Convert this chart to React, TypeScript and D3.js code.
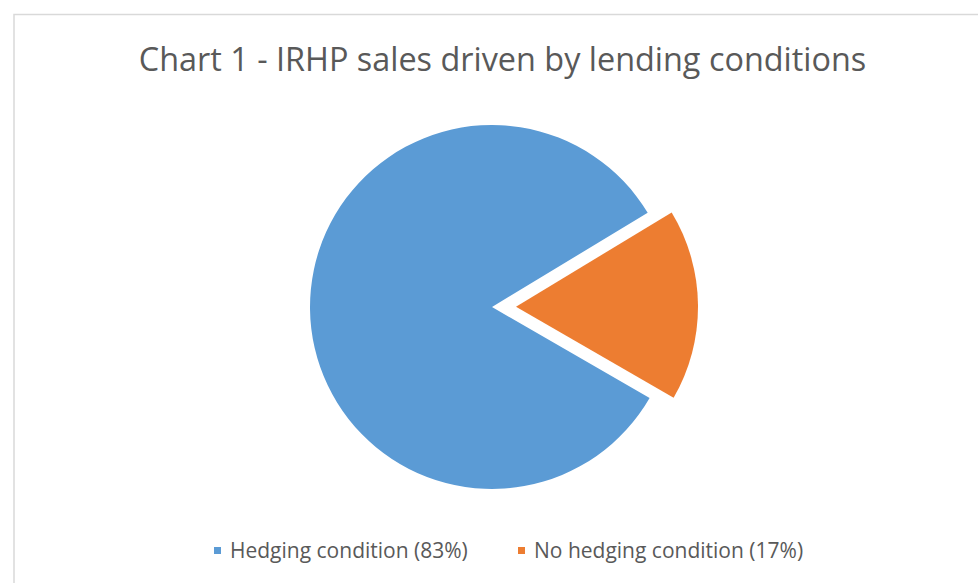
import React from "react";
import * as d3 from "d3";

const categories = ["No hedging condition", "Hedging condition"];
const values = [17, 83];
const colors = ["#ED7D31", "#5B9BD5"];
const legendOrder = [1, 0];
const title = "Chart 1 - IRHP sales driven by lending conditions";

export default function App() {
  const W = 978, H = 583;
  const cx = 492, cy = 307, r = 182;
  const explode = 24;
  const startAngle = (58.8 * Math.PI) / 180;
  const pie = d3.pie<number>().sort(null).value((d) => d)
    .startAngle(startAngle).endAngle(startAngle + 2 * Math.PI);
  const arcs = pie(values);
  const arc = d3.arc<d3.PieArcDatum<number>>().innerRadius(0).outerRadius(r);
  const font = "'Open Sans', sans-serif";
  return (
    <div style={{ position: "absolute", left: 0, top: 0 }}>
      <svg width={W} height={H} style={{ display: "block", background: "#fff" }}>
        <rect x={14} y={14.5} width={W} height={H} fill="#fff" stroke="#D9D9D9" strokeWidth={1.5} />
        <text x={502.5} y={71} textAnchor="middle" fill="#595959" fontFamily={font} fontSize={32.4}>{title}</text>
        {arcs.map((a, i) => {
          const mid = (a.startAngle + a.endAngle) / 2;
          const off = i === 0 ? explode : 0;
          const dx = Math.sin(mid) * off, dy = -Math.cos(mid) * off;
          return (
            <path key={i} d={arc(a) || ""} fill={colors[i]}
              transform={`translate(${cx + dx},${cy + dy})`} />
          );
        })}
        {legendOrder.map((idx, k) => {
          const xs = [214, 518];
          const x = xs[k];
          return (
            <g key={idx}>
              <rect x={x} y={547} width={7} height={7} fill={colors[idx]} />
              <text x={x + 16} y={557.5} fill="#595959" fontFamily={font} fontSize={21}>
                {`${categories[idx]} (${values[idx]}%)`}
              </text>
            </g>
          );
        })}
      </svg>
    </div>
  );
}
